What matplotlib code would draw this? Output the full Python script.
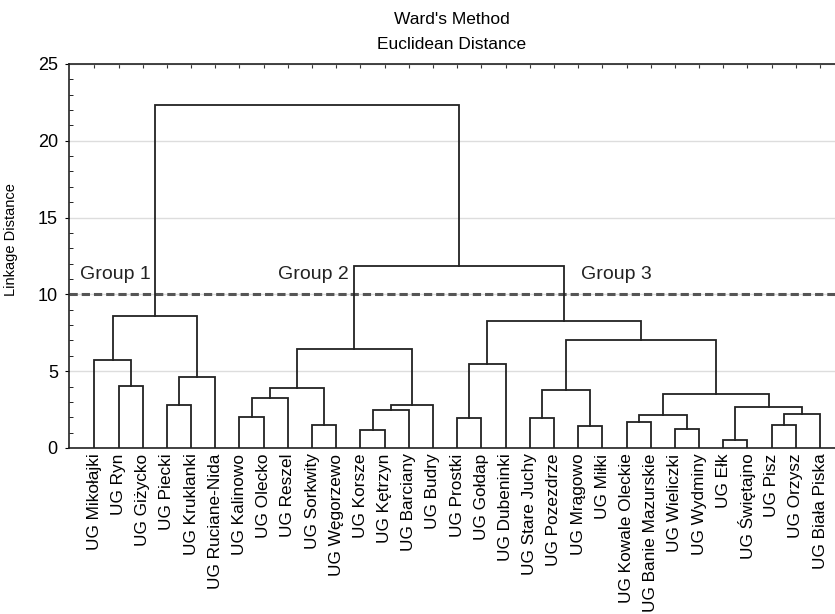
import numpy as np
import matplotlib.pyplot as plt
from matplotlib.ticker import MultipleLocator

plt.rcParams['font.family'] = ['Liberation Sans', 'DejaVu Sans']

# leaves in display order
leaves = [
    "UG Mikołajki", "UG Ryn", "UG Giżycko", "UG Piecki", "UG Kruklanki",
    "UG Ruciane-Nida", "UG Kalinowo", "UG Olecko", "UG Reszel", "UG Sorkwity",
    "UG Węgorzewo", "UG Korsze", "UG Kętrzyn", "UG Barciany", "UG Budry",
    "UG Prostki", "UG Gołdap", "UG Dubeninki", "UG Stare Juchy", "UG Pozezdrze",
    "UG Mrągowo", "UG Miłki", "UG Kowale Oleckie", "UG Banie Mazurskie",
    "UG Wieliczki", "UG Wydminy", "UG Ełk", "UG Świętajno", "UG Pisz",
    "UG Orzysz", "UG Biała Piska",
]

# merges: (child a, child b, linkage distance); ids >= len(leaves) refer to earlier merges
merge_a = [1, 0, 3, 33, 32, 6, 36, 9, 37, 11, 40, 41, 39, 15, 44, 18, 20, 46,
           22, 24, 49, 26, 28, 53, 52, 51, 48, 45, 43, 35]
merge_b = [2, 31, 4, 5, 34, 7, 8, 10, 38, 12, 13, 14, 42, 16, 17, 19, 21, 47,
           23, 25, 50, 27, 29, 30, 54, 55, 56, 57, 58, 59]
merge_h = [4.06, 5.73, 2.82, 4.64, 8.59, 2.04, 3.26, 1.52, 3.88, 1.15, 2.45,
           2.82, 6.42, 1.93, 5.45, 1.93, 1.43, 3.78, 1.67, 1.24, 2.13, 0.54,
           1.52, 2.21, 2.65, 3.52, 7.03, 8.27, 11.87, 22.33]

cut_height = 10
group_names = ["Group 1", "Group 2", "Group 3"]
group_x = [-0.6, 7.6, 20.1]

fig = plt.figure(figsize=(8.35, 6.14), dpi=100)
ax = fig.add_axes([0.0826, 0.2704, 0.9174, 0.6254])

n = len(leaves)
xpos = {i: float(i) for i in range(n)}
ypos = {i: 0.0 for i in range(n)}
for k, (a, b, h) in enumerate(zip(merge_a, merge_b, merge_h)):
    ax.plot([xpos[a], xpos[a], xpos[b], xpos[b]], [ypos[a], h, h, ypos[b]],
            color='#222222', lw=1.3, solid_joinstyle='miter', zorder=3)
    xpos[n + k] = (xpos[a] + xpos[b]) / 2
    ypos[n + k] = h

ax.axhline(cut_height, color='#555555', lw=2.2, ls=(0, (2.7, 1.3)), zorder=2)
for name, gx in zip(group_names, group_x):
    ax.text(gx, 11.3, name, fontsize=14, ha='left', va='center', color='#222222')

ax.set_xlim(-1.05, 30.62)
ax.set_ylim(0, 25)
ax.set_xticks(range(n))
ax.set_xticklabels(leaves, rotation=90, fontsize=12.4)
ax.tick_params(axis='x', bottom=False, top=True, direction='in', length=3,
               labelbottom=True, labeltop=False, pad=4, color='#333333')
ax.yaxis.set_major_locator(MultipleLocator(5))
ax.yaxis.set_minor_locator(MultipleLocator(1))
ax.tick_params(axis='y', which='major', direction='out', length=3, pad=5, labelsize=13)
ax.tick_params(axis='y', which='minor', direction='in', length=3)
ax.grid(axis='y', which='major', color='#dddddd', lw=1, zorder=0)
ax.spines['right'].set_visible(False)
for s in ['left', 'top', 'bottom']:
    ax.spines[s].set_linewidth(1.2)
    ax.spines[s].set_color('#222222')

ax.set_ylabel("Linkage Distance", fontsize=10.5)
ax.yaxis.set_label_coords(-0.066, 0.542)
fig.text(0.541, 0.981, "Ward's Method\nEuclidean Distance", ha='center', va='top',
         fontsize=12.5, linespacing=1.85)

fig.savefig("out.png", dpi=100)
